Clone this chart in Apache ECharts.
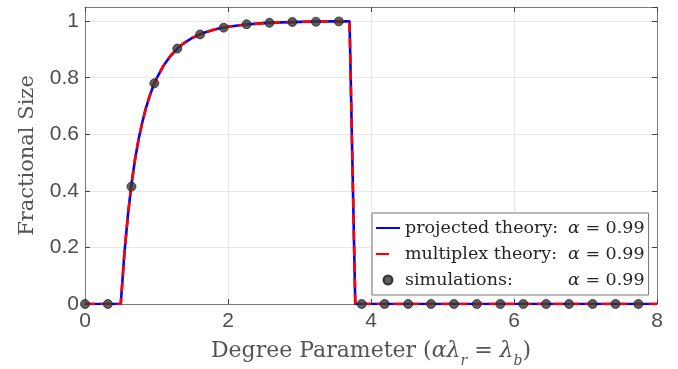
<!DOCTYPE html>
<html>
<head>
<meta charset="utf-8">
<script src="https://cdn.jsdelivr.net/npm/echarts@6/dist/echarts.min.js"></script>
<style>
html,body{margin:0;padding:0;background:#fff;}
#chart{width:678px;height:369px;}
</style>
</head>
<body>
<div id="chart"></div>
<script>
// ---- data ----
var theoryX = [0, 0.5, 0.55, 0.6, 0.65, 0.7, 0.75, 0.8, 0.85, 0.9, 0.95, 1.0, 1.1, 1.2, 1.3, 1.4, 1.5, 1.6, 1.7, 1.8, 1.9, 2.0, 2.25, 2.5, 2.75, 3.0, 3.25, 3.5, 3.7, 3.78, 8];
var projectedY = [0, 0, 0.1761, 0.3137, 0.4236, 0.5117, 0.5828, 0.6408, 0.6909, 0.7323, 0.7670, 0.7968, 0.8434, 0.8785, 0.9049, 0.9250, 0.9405, 0.9526, 0.9620, 0.9696, 0.9755, 0.9802, 0.9883, 0.9930, 0.9958, 0.9975, 0.9985, 0.9991, 0.9994, 0, 0];
var multiplexY = [0, 0, 0.1761, 0.3137, 0.4236, 0.5117, 0.5828, 0.6408, 0.6909, 0.7323, 0.7670, 0.7968, 0.8434, 0.8785, 0.9049, 0.9250, 0.9405, 0.9526, 0.9620, 0.9696, 0.9755, 0.9802, 0.9883, 0.9930, 0.9958, 0.9975, 0.9985, 0.9991, 0.9994, 0, 0];
var simX = [0, 0.32, 0.65, 0.97, 1.29, 1.61, 1.94, 2.26, 2.58, 2.9, 3.23, 3.55, 3.87, 4.19, 4.52, 4.84, 5.16, 5.48, 5.81, 6.13, 6.45, 6.77, 7.1, 7.42, 7.74];
var simY = [0, 0, 0.415, 0.78, 0.903, 0.953, 0.977, 0.989, 0.994, 0.997, 0.998, 0.999, 0, 0, 0, 0, 0, 0, 0, 0, 0, 0, 0, 0, 0];
var seriesNames = ['projected theory:', 'multiplex theory:', 'simulations:'];
var alphaValue = '0.99';
var xTickMin = 0, xTickMax = 8, xTickStep = 2;
var yTickMin = 0, yTickMax = 1.05, yTickStep = 0.2;

function pairs(xs, ys){ return xs.map(function(x,i){ return [x, ys[i]]; }); }

var serif = 'DejaVu Serif';
var sans = 'Liberation Sans';
var axisCol = '#7a7a7a';

var chart = echarts.init(document.getElementById('chart'), null, {renderer:'canvas'});

var option = {
  animation: false,
  backgroundColor: '#fff',
  grid: {left: 85, right: 21, top: 7, bottom: 65, containLabel: false, outerBoundsMode: 'none'},
  xAxis: [{
    type: 'value', min: xTickMin, max: xTickMax, interval: xTickStep, position: 'bottom',
    axisLine: {show: true, onZero: false, lineStyle: {color: axisCol, width: 1}},
    axisTick: {show: true, inside: true, length: 5, lineStyle: {color: '#444'}},
    axisLabel: {fontFamily: sans, fontSize: 21, color: '#4d4d4d', margin: 7},
    splitLine: {show: true, lineStyle: {color: '#e6e6e6', width: 1}},
    name: '{t|Degree Parameter (}{i|αλ}{s|r}{t| = }{i|λ}{s|b}{t|)}',
    nameLocation: 'middle', nameGap: 30,
    nameTextStyle: {
      rich: {
        t: {fontFamily: serif, fontSize: 22, color: '#555', lineHeight: 28, verticalAlign: 'bottom'},
        i: {fontFamily: serif, fontStyle: 'italic', fontSize: 22, color: '#555', lineHeight: 28, verticalAlign: 'bottom'},
        s: {fontFamily: serif, fontStyle: 'italic', fontSize: 14, color: '#555', lineHeight: 28, verticalAlign: 'bottom', padding: [0,0,-6,0]}
      }
    }
  }, {
    type: 'value', min: xTickMin, max: xTickMax, interval: xTickStep, position: 'top',
    axisLine: {show: true, onZero: false, lineStyle: {color: axisCol, width: 1}},
    axisTick: {show: true, inside: true, length: 5, lineStyle: {color: '#444'}},
    axisLabel: {show: false}, splitLine: {show: false}
  }],
  yAxis: [{
    type: 'value', min: yTickMin, max: yTickMax, interval: yTickStep, position: 'left',
    axisLine: {show: true, onZero: false, lineStyle: {color: axisCol, width: 1}},
    axisTick: {show: true, inside: true, length: 5, lineStyle: {color: '#444'}},
    axisLabel: {fontFamily: sans, fontSize: 21, color: '#4d4d4d', margin: 6, showMaxLabel: false},
    splitLine: {show: true, lineStyle: {color: '#e6e6e6', width: 1}},
    name: 'Fractional Size', nameLocation: 'middle', nameGap: 47,
    nameTextStyle: {fontFamily: serif, fontSize: 21, color: '#555'}
  }, {
    type: 'value', min: yTickMin, max: yTickMax, interval: yTickStep, position: 'right',
    axisLine: {show: true, onZero: false, lineStyle: {color: axisCol, width: 1}},
    axisTick: {show: true, inside: true, length: 5, lineStyle: {color: '#444'}},
    axisLabel: {show: false}, splitLine: {show: false}
  }],
  legend: {
    orient: 'vertical', left: 372, top: 213,
    backgroundColor: '#fff', borderColor: '#777', borderWidth: 1, borderRadius: 0,
    padding: [6, 4, 6, 3], itemGap: 8, itemWidth: 24, itemHeight: 9,
    data: [
      {name: seriesNames[0], itemStyle: {opacity: 0}},
      {name: seriesNames[1], itemStyle: {opacity: 0}, lineStyle: {type: [13, 40]}},
      {name: seriesNames[2]}
    ],
    formatter: function(name){
      return '{a|' + name + '}{g|α}{b| = ' + alphaValue + '}';
    },
    textStyle: {
      rich: {
        a: {fontFamily: serif, fontSize: 17.5, color: '#262626', width: 163, lineHeight: 20},
        g: {fontFamily: serif, fontStyle: 'italic', fontSize: 17.5, color: '#262626', lineHeight: 20},
        b: {fontFamily: serif, fontSize: 17.5, color: '#262626', lineHeight: 20}
      }
    }
  },
  series: [{
    name: seriesNames[0], type: 'line', xAxisIndex: 0, yAxisIndex: 0,
    data: pairs(theoryX, projectedY), symbol: 'none', z: 2,
    lineStyle: {color: '#0000ff', width: 2.6}, itemStyle: {color: '#0000ff'}
  }, {
    name: seriesNames[1], type: 'line', xAxisIndex: 0, yAxisIndex: 0,
    data: pairs(theoryX, multiplexY), symbol: 'none', z: 3,
    lineStyle: {color: '#ff0000', width: 2.6, type: [10, 6]}, itemStyle: {color: '#ff0000'}
  }, {
    name: seriesNames[2], type: 'scatter', xAxisIndex: 0, yAxisIndex: 0,
    data: pairs(simX, simY), symbol: 'circle', symbolSize: 9, z: 4,
    itemStyle: {color: '#363636', borderColor: '#151515', borderWidth: 0.8}
  }]
};
chart.setOption(option);
</script>
</body>
</html>
